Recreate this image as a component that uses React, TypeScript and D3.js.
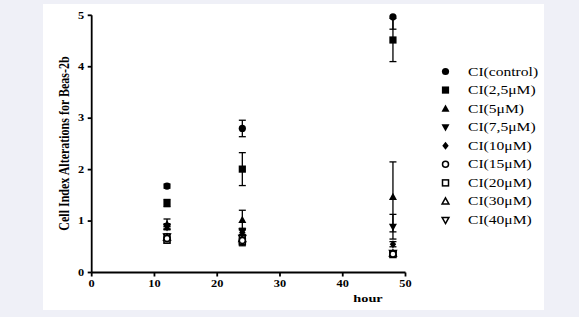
import React from "react";
import * as d3 from "d3";

const hours = [12, 24, 48];
const seriesNames = ["CI(control)", "CI(2,5μM)", "CI(5μM)", "CI(7,5μM)", "CI(10μM)", "CI(15μM)", "CI(20μM)", "CI(30μM)", "CI(40μM)"];
const control = [1.68, 2.8, 4.97];
const c2_5 = [1.35, 2.01, 4.52];
const c5 = [0.94, 1.02, 1.47];
const c7_5 = [0.88, 0.8, 0.89];
const c10 = [0.9, 0.78, 0.55];
const c15 = [0.66, 0.62, 0.36];
const c20 = [0.63, 0.6, 0.35];
const c30 = [0.68, 0.65, 0.37];
const c40 = [0.7, 0.67, 0.38];
const errControl = [0.04, 0.16, 0.24];
const err2_5 = [0.07, 0.32, 0.42];
const err5 = [0.1, 0.19, 0.68];
const err7_5 = [0.05, 0.06, 0.24];
const err10 = [0.05, 0.05, 0.05];
const err15 = [0.05, 0.06, 0.04];
const err20 = [0.06, 0.08, 0.04];
const err30 = [0.05, 0.05, 0.04];
const err40 = [0.05, 0.05, 0.04];
const xTicks = [0, 10, 20, 30, 40, 50];
const yTicks = [0, 1, 2, 3, 4, 5];

const values = [control, c2_5, c5, c7_5, c10, c15, c20, c30, c40];
const errors = [errControl, err2_5, err5, err7_5, err10, err15, err20, err30, err40];
const shapes = ["circle", "square", "triUp", "triDown", "diamond", "circleO", "squareO", "triUpO", "triDownO"];

function Marker({ shape, x, y }: { shape: string; x: number; y: number }) {
  const open = shape.endsWith("O");
  const fill = open ? "white" : "black";
  const sw = open ? 1.5 : 0;
  const base = open ? shape.slice(0, -1) : shape;
  const r = open ? 3 : 3.6;
  if (base === "circle") return <circle cx={x} cy={y} r={r} fill={fill} stroke="black" strokeWidth={sw} />;
  if (base === "square") return <rect x={x - r} y={y - r} width={2 * r} height={2 * r} fill={fill} stroke="black" strokeWidth={sw} />;
  if (base === "diamond") return <path d={`M${x},${y - 4}L${x + 3.2},${y}L${x},${y + 4}L${x - 3.2},${y}Z`} fill={fill} />;
  const s = open ? 0.85 : 1;
  if (base === "triUp") return <path d={`M${x},${y - 4.2 * s}L${x + 4 * s},${y + 3 * s}L${x - 4 * s},${y + 3 * s}Z`} fill={fill} stroke="black" strokeWidth={sw} />;
  return <path d={`M${x},${y + 4.2 * s}L${x + 4 * s},${y - 3 * s}L${x - 4 * s},${y - 3 * s}Z`} fill={fill} stroke="black" strokeWidth={sw} />;
}

export default function App() {
  const W = 579, H = 317;
  const x = d3.scaleLinear().domain([0, 50]).range([91.7, 405.5]);
  const y = d3.scaleLinear().domain([0, 5]).range([272.5, 15.3]);
  const font = "'Liberation Serif', 'Times New Roman', serif";
  const legendY = d3.scalePoint<number>().domain(d3.range(9)).range([71.5, 220]);
  const sx = 1.3;

  return (
    <div style={{ position: "fixed", left: 0, top: 0 }}>
      <svg width={W} height={H} style={{ display: "block" }}>
        <rect width={W} height={H} fill="#eff0f7" />
        <rect x={43} y={4} width={501} height={306} fill="white" />
        {values.map((vals, si) =>
          vals.map((v, i) => {
            const e = errors[si][i];
            const top = Math.min(5, v + e);
            const bot = Math.max(0, v - e);
            const cx = x(hours[i]);
            return (
              <g key={`e${si}-${i}`} stroke="black" strokeWidth={1.3}>
                <line x1={cx} x2={cx} y1={y(top)} y2={y(bot)} />
                {v + e <= 5 && <line x1={cx - 3.5} x2={cx + 3.5} y1={y(top)} y2={y(top)} />}
                <line x1={cx - 3.5} x2={cx + 3.5} y1={y(bot)} y2={y(bot)} />
              </g>
            );
          })
        )}
        {values
          .map((vals, si) => ({ vals, si }))
          .reverse()
          .map(({ vals, si }) =>
            vals.map((v, i) => <Marker key={`m${si}-${i}`} shape={shapes[si]} x={x(hours[i])} y={y(v)} />)
          )}
        <g stroke="black" strokeWidth={1.8} fill="none">
          <line x1={x(0)} x2={x(0)} y1={y(5)} y2={y(0)} />
          <line x1={x(0)} x2={x(50)} y1={y(0)} y2={y(0)} />
          {yTicks.map((t) => (
            <line key={`yt${t}`} x1={x(0) - 4} x2={x(0)} y1={y(t)} y2={y(t)} />
          ))}
          {xTicks.map((t) => (
            <line key={`xt${t}`} x1={x(t)} x2={x(t)} y1={y(0)} y2={y(0) + 4} />
          ))}
        </g>
        <g fontFamily={font} fontWeight="bold" fill="black">
          {yTicks.map((t) => (
            <text key={`yl${t}`} transform={`translate(${x(0) - 7.5},${y(t) + 3.2}) scale(${sx},1)`} textAnchor="end" fontSize={9.5}>
              {t}
            </text>
          ))}
          {xTicks.map((t) => (
            <text key={`xl${t}`} transform={`translate(${x(t)},${y(0) + 14.3}) scale(${sx},1)`} textAnchor="middle" fontSize={9.5}>
              {t}
            </text>
          ))}
          <text transform={`translate(368,301.5) scale(${sx},1)`} textAnchor="middle" fontSize={11}>hour</text>
          <text transform={`translate(69,143.5) scale(${sx},1) rotate(-90)`} textAnchor="middle" fontSize={12}>
            Cell Index Alterations for Beas-2b
          </text>
        </g>
        <g fontFamily={font} fontSize={12} fill="black">
          {seriesNames.map((n, i) => (
            <g key={n}>
              <Marker shape={shapes[i]} x={445.5} y={legendY(i)!} />
              <text transform={`translate(468,${legendY(i)! + 4}) scale(${sx},1)`}>
                {n}
              </text>
            </g>
          ))}
        </g>
      </svg>
    </div>
  );
}
